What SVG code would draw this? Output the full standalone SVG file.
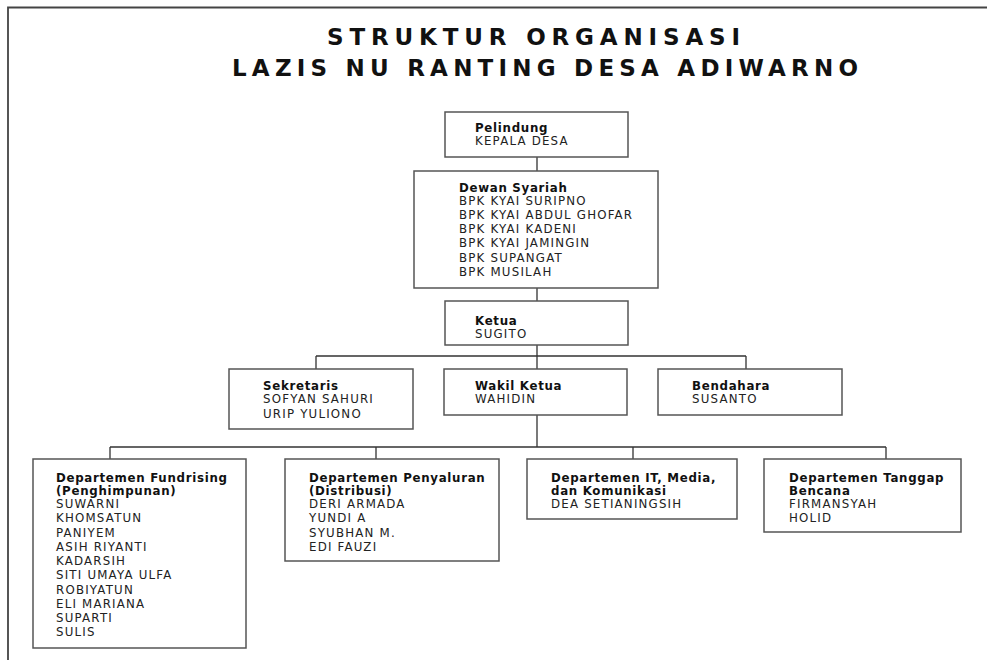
<svg xmlns="http://www.w3.org/2000/svg" width="987" height="660" viewBox="0 0 987 660">
<style>
.box{fill:#fff;stroke:#555;stroke-width:1.5}
.h{font-family:"DejaVu Sans",sans-serif;font-weight:bold;font-size:11.8px;fill:#111;letter-spacing:0.7px}
.n{font-family:"DejaVu Sans",sans-serif;font-size:11.8px;fill:#222;letter-spacing:1.2px}
.t{font-family:"DejaVu Sans",sans-serif;font-weight:bold;font-size:23px;fill:#111}
.c{fill:none;stroke:#333;stroke-width:1.3}
</style>
<rect width="987" height="660" fill="#fff"/>
<path d="M8,660 V7.5 H987" fill="none" stroke="#444" stroke-width="1.8"/>
<g id="title">
<text class="t" x="327" y="45" textLength="413" lengthAdjust="spacing">STRUKTUR ORGANISASI</text>
<text class="t" x="232" y="76" textLength="626" lengthAdjust="spacing">LAZIS NU RANTING DESA ADIWARNO</text>
</g>
<g id="connectors">
<path class="c" d="M537,157 V171 M537,288 V301 M537,345 V447 M316,356 H746 M316,356 V369 M746,356 V369 M110,447 H886 M110,447 V459 M376,447 V459 M633,447 V459 M886,447 V459"/>
</g>
<g id="pelindung">
<rect class="box" x="445" y="112" width="183" height="45"/>
<text class="h" x="475" y="132">Pelindung</text>
<text class="n" x="475" y="145">KEPALA DESA</text>
</g>
<g id="dewan">
<rect class="box" x="414" y="171" width="244" height="117"/>
<text class="h" x="459" y="192">Dewan Syariah</text>
<text class="n" x="459" y="205">BPK KYAI SURIPNO</text>
<text class="n" x="459" y="219">BPK KYAI ABDUL GHOFAR</text>
<text class="n" x="459" y="233">BPK KYAI KADENI</text>
<text class="n" x="459" y="247">BPK KYAI JAMINGIN</text>
<text class="n" x="459" y="262">BPK SUPANGAT</text>
<text class="n" x="459" y="276">BPK MUSILAH</text>
</g>
<g id="ketua">
<rect class="box" x="445" y="301" width="183" height="44"/>
<text class="h" x="475" y="325">Ketua</text>
<text class="n" x="475" y="338">SUGITO</text>
</g>
<g id="sekretaris">
<rect class="box" x="229" y="369" width="184" height="60"/>
<text class="h" x="263" y="390">Sekretaris</text>
<text class="n" x="263" y="403">SOFYAN SAHURI</text>
<text class="n" x="263" y="418">URIP YULIONO</text>
</g>
<g id="wakil">
<rect class="box" x="444" y="369" width="183" height="46"/>
<text class="h" x="475" y="390">Wakil Ketua</text>
<text class="n" x="475" y="403">WAHIDIN</text>
</g>
<g id="bendahara">
<rect class="box" x="658" y="369" width="184" height="46"/>
<text class="h" x="692" y="390">Bendahara</text>
<text class="n" x="692" y="403">SUSANTO</text>
</g>
<g id="fundrising">
<rect class="box" x="33" y="459" width="213" height="189"/>
<text class="h" x="56" y="482">Departemen Fundrising</text>
<text class="h" x="56" y="495">(Penghimpunan)</text>
<text class="n" x="56" y="508">SUWARNI</text>
<text class="n" x="56" y="522">KHOMSATUN</text>
<text class="n" x="56" y="537">PANIYEM</text>
<text class="n" x="56" y="551">ASIH RIYANTI</text>
<text class="n" x="56" y="565">KADARSIH</text>
<text class="n" x="56" y="579">SITI UMAYA ULFA</text>
<text class="n" x="56" y="594">ROBIYATUN</text>
<text class="n" x="56" y="608">ELI MARIANA</text>
<text class="n" x="56" y="622">SUPARTI</text>
<text class="n" x="56" y="636">SULIS</text>
</g>
<g id="penyaluran">
<rect class="box" x="285" y="459" width="214" height="102"/>
<text class="h" x="309" y="482">Departemen Penyaluran</text>
<text class="h" x="309" y="495">(Distribusi)</text>
<text class="n" x="309" y="508">DERI ARMADA</text>
<text class="n" x="309" y="522">YUNDI A</text>
<text class="n" x="309" y="537">SYUBHAN M.</text>
<text class="n" x="309" y="551">EDI FAUZI</text>
</g>
<g id="it">
<rect class="box" x="527" y="459" width="210" height="60"/>
<text class="h" x="551" y="482">Departemen IT, Media,</text>
<text class="h" x="551" y="495">dan Komunikasi</text>
<text class="n" x="551" y="508">DEA SETIANINGSIH</text>
</g>
<g id="tanggap">
<rect class="box" x="764" y="459" width="197" height="73"/>
<text class="h" x="789" y="482">Departemen Tanggap</text>
<text class="h" x="789" y="495">Bencana</text>
<text class="n" x="789" y="508">FIRMANSYAH</text>
<text class="n" x="789" y="522">HOLID</text>
</g>
</svg>
